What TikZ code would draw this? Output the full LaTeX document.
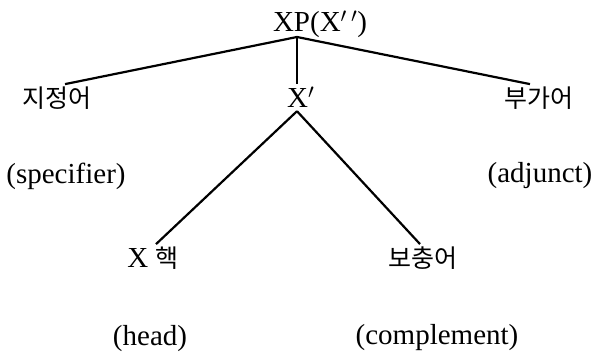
\documentclass[tikz,border=0pt]{standalone}
\usepackage{fontspec}
\setmainfont{Liberation Serif}
\newfontfamily\krfont{Noto Sans CJK KR}
\usetikzlibrary{positioning}
\newcommand{\latsize}{\fontsize{29}{33}\selectfont}
\newcommand{\korsize}{\krfont\fontsize{25}{29}\selectfont}

\begin{document}
\begin{tikzpicture}[x=1pt,y=-1pt,
    lbl/.style={anchor=base,inner xsep=0pt,inner ysep=3pt,font=\latsize},
    kor/.style={anchor=base,inner xsep=0pt,inner ysep=3pt,font=\korsize},
    branch/.style={line width=2.2pt}]
\useasboundingbox (0,0) rectangle (595,352);
\coordinate (root) at (297,37);
\node [lbl] (xp) at (320,32) {XP(X$'\,'$)};
\node [lbl,anchor=base west] (xbar) at (287,108) {X$'$};
\node [kor] (spec) at (57,108) {지정어};
\node [kor] (adj) at (539,108) {부가어};
\node [lbl] (spectxt) at (66,184) {(specifier)};
\node [lbl] (adjtxt) at (540,183) {(adjunct)};
\node [lbl] (head) at (153,268) {X {\korsize 핵}};
\node [kor] (comp) at (423,268) {보충어};
\node [lbl] (headtxt) at (150,346) {(head)};
\node [lbl] (comptxt) at (437,345) {(complement)};
\coordinate (apex) at (root |- xbar.south);
\draw [branch] (root) -- ([xshift=8pt]spec.north);
\draw [branch] (root) -- ([xshift=-9pt]adj.north);
\draw [branch] (root) -- (root |- xbar.north);
\draw [branch] (apex) -- ([xshift=3pt]head.north);
\draw [branch] (apex) -- ([xshift=-3pt]comp.north);
\end{tikzpicture}
\end{document}
